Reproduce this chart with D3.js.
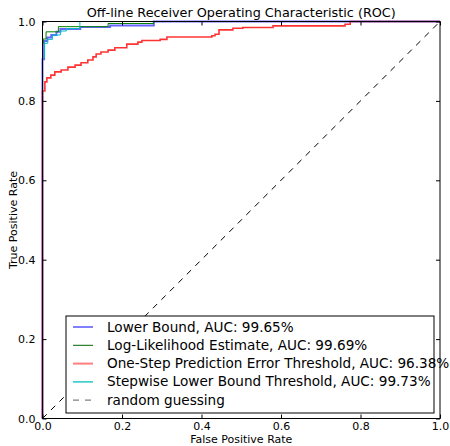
<!DOCTYPE html>
<html>
<head>
<meta charset="utf-8">
<script src="https://cdn.jsdelivr.net/npm/d3@7"></script>
<style>
  body { margin: 0; background: #fff; }
  text { font-family: "DejaVu Sans", sans-serif; fill: #000; }
</style>
</head>
<body>
<div class="canvas"></div>
<script>
// ROC curves (false positive rate / true positive rate)
const lowerFpr = [0, 0, 0.004, 0.012, 0.022, 0.035, 0.045, 0.095, 0.17, 0.28, 1];
const lowerTpr = [0, 0.905, 0.951, 0.960, 0.966, 0.974, 0.981, 0.986, 0.990, 1.0, 1.0];

const llFpr = [0, 0, 0.002, 0.009, 0.04, 0.165, 0.28, 1];
const llTpr = [0, 0.945, 0.956, 0.974, 0.987, 0.995, 1.0, 1.0];

const ospFpr = [0, 0, 0.006, 0.011, 0.021, 0.031, 0.047, 0.064, 0.082, 0.097, 0.114, 0.127, 0.135, 0.147, 0.165, 0.182, 0.212, 0.240, 0.250, 0.296, 0.313, 0.426, 0.434, 0.444, 0.479, 0.504, 0.580, 0.761, 0.774, 0.85, 1.0];
const ospTpr = [0, 0.825, 0.848, 0.858, 0.865, 0.873, 0.878, 0.885, 0.890, 0.896, 0.903, 0.911, 0.918, 0.923, 0.928, 0.934, 0.943, 0.948, 0.952, 0.955, 0.961, 0.964, 0.968, 0.979, 0.983, 0.985, 0.989, 0.993, 1.0, 1.0, 1.0];

const swFpr = [0, 0, 0.005, 0.013, 0.025, 0.045, 0.06, 0.094, 1];
const swTpr = [0, 0.91, 0.945, 0.955, 0.966, 0.976, 0.982, 1.0, 1.0];

const labels = [
  'Lower Bound, AUC: 99.65%',
  'Log-Likelihood Estimate, AUC: 99.69%',
  'One-Step Prediction Error Threshold, AUC: 96.38%',
  'Stepwise Lower Bound Threshold, AUC: 99.73%',
  'random guessing'
];
const ticks = [0, 0.2, 0.4, 0.6, 0.8, 1.0];

const width = 450, height = 446;
const margin = { top: 21.5, right: 10, bottom: 27.5, left: 42.5 };
const graphWidth = width - margin.left - margin.right;
const graphHeight = height - margin.top - margin.bottom;

const svg = d3.select('.canvas')
  .append('svg')
  .attr('width', width)
  .attr('height', height);

const graph = svg.append('g')
  .attr('transform', `translate(${margin.left}, ${margin.top})`);

const x = d3.scaleLinear().domain([0, 1]).range([0, graphWidth]);
const y = d3.scaleLinear().domain([0, 1]).range([graphHeight, 0]);

const series = [
  { fpr: lowerFpr, tpr: lowerTpr, color: '#0000ff', w: 2, op: 0.6 },
  { fpr: llFpr, tpr: llTpr, color: '#008000', w: 1, op: 1 },
  { fpr: ospFpr, tpr: ospTpr, color: '#ff0000', w: 1.6, op: 0.8 },
  { fpr: swFpr, tpr: swTpr, color: '#00bfbf', w: 1, op: 1 }
];

const line = d3.line()
  .x(d => x(d[0]))
  .y(d => y(d[1]))
  .curve(d3.curveStepAfter);

// diagonal
graph.append('path')
  .datum([[0, 0], [1, 1]])
  .attr('d', d3.line().x(d => x(d[0])).y(d => y(d[1])))
  .attr('fill', 'none')
  .attr('stroke', '#000')
  .attr('stroke-width', 1)
  .attr('stroke-dasharray', '6,6');

series.forEach(s => {
  graph.append('path')
    .datum(s.fpr.map((f, i) => [f, s.tpr[i]]))
    .attr('d', line)
    .attr('fill', 'none')
    .attr('stroke', s.color)
    .attr('stroke-width', s.w)
    .attr('stroke-opacity', s.op);
});

// axes with inward ticks on all four sides
const fmt = d3.format('.1f');
graph.append('g').attr('transform', `translate(0, ${graphHeight})`)
  .call(d3.axisBottom(x).tickValues(ticks).tickFormat(fmt).tickSizeInner(-4).tickSizeOuter(0).tickPadding(4));
graph.append('g')
  .call(d3.axisLeft(y).tickValues(ticks).tickFormat(fmt).tickSizeInner(-4).tickSizeOuter(0).tickPadding(7));
graph.append('g')
  .call(d3.axisTop(x).tickValues(ticks).tickFormat('').tickSizeInner(-4).tickSizeOuter(0));
graph.append('g').attr('transform', `translate(${graphWidth}, 0)`)
  .call(d3.axisRight(y).tickValues(ticks).tickFormat('').tickSizeInner(-4).tickSizeOuter(0));

graph.selectAll('.domain').remove();
graph.selectAll('.tick line').attr('stroke', '#000');
graph.selectAll('.tick text').attr('font-size', '11px').attr('font-family', 'DejaVu Sans').attr('fill', '#000');

graph.append('rect')
  .attr('width', graphWidth)
  .attr('height', graphHeight)
  .attr('fill', 'none')
  .attr('stroke', '#000')
  .attr('stroke-width', 1);

// titles
svg.append('text')
  .attr('x', margin.left + graphWidth / 2)
  .attr('y', 16.5)
  .attr('text-anchor', 'middle')
  .attr('font-size', '12.8px')
  .text('Off-line Receiver Operating Characteristic (ROC)');

svg.append('text')
  .attr('x', margin.left + graphWidth / 2)
  .attr('y', 443)
  .attr('text-anchor', 'middle')
  .attr('font-size', '11px')
  .text('False Positive Rate');

svg.append('text')
  .attr('transform', `translate(17, ${margin.top + graphHeight / 2}) rotate(-90)`)
  .attr('text-anchor', 'middle')
  .attr('font-size', '11px')
  .text('True Positive Rate');

// legend
const legend = svg.append('g').attr('transform', 'translate(66, 316)');
legend.append('rect')
  .attr('width', 368)
  .attr('height', 97)
  .attr('fill', '#fff')
  .attr('stroke', '#000')
  .attr('stroke-width', 1);

const legendStyles = [
  { color: '#0000ff', w: 2, op: 0.5, dash: null },
  { color: '#006400', w: 1, op: 1, dash: null },
  { color: '#ff0000', w: 2, op: 0.5, dash: null },
  { color: '#00bfbf', w: 1.3, op: 1, dash: null },
  { color: '#000', w: 1.3, op: 0.5, dash: '6,6' }
];

labels.forEach((lab, i) => {
  const cy = 11 + i * 18.3;
  const st = legendStyles[i];
  legend.append('line')
    .attr('x1', 7).attr('x2', 27)
    .attr('y1', cy).attr('y2', cy)
    .attr('stroke', st.color)
    .attr('stroke-width', st.w)
    .attr('stroke-opacity', st.op)
    .attr('stroke-dasharray', st.dash);
  legend.append('text')
    .attr('x', 41)
    .attr('y', cy + 4.5)
    .attr('font-size', '13.6px')
    .text(lab);
});
</script>
</body>
</html>
